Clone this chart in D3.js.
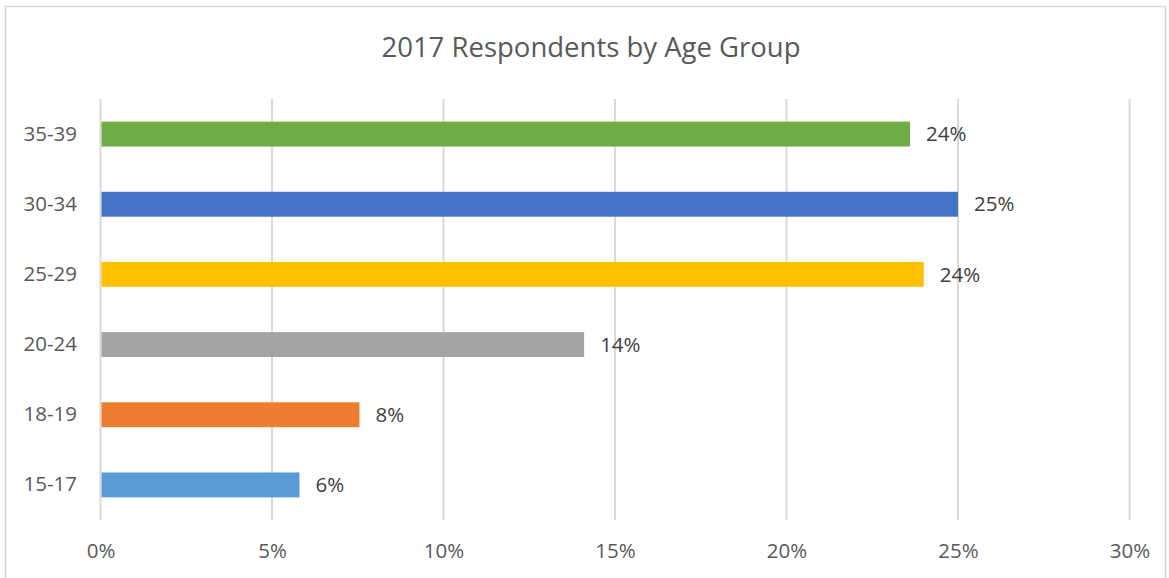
<!DOCTYPE html>
<html>
<head>
<meta charset="utf-8">
<script src="https://cdn.jsdelivr.net/npm/d3@7"></script>
<style>
  body { margin: 0; background: #fff; }
  text { font-family: "Open Sans", "Noto Sans", sans-serif; }
</style>
</head>
<body>
<div id="chart"></div>
<script>
var width = 1169;
var height = 578;

// data, bottom to top as in the picture
var ageGroups = ["15-17", "18-19", "20-24", "25-29", "30-34", "35-39"];
var shares = [5.8, 7.55, 14.1, 24.0, 25.0, 23.6];
var barLabels = ["6%", "8%", "14%", "24%", "25%", "24%"];
var barColors = ["#5B9BD5", "#ED7D31", "#A5A5A5", "#FFC000", "#4472C4", "#70AD47"];
var xTicks = [0, 5, 10, 15, 20, 25, 30];

var svg = d3.select("#chart")
            .append("svg")
            .attr("width", width)
            .attr("height", height);

// outer chart border
svg.append("rect")
    .attr("x", 5.5)
    .attr("y", 6.5)
    .attr("width", 1160)
    .attr("height", 600)
    .attr("fill", "none")
    .attr("stroke", "#D9D9D9")
    .attr("stroke-width", 1.5);

var x = d3.scaleLinear()
    .domain([0, 30])
    .range([100.5, 1129.5]);

// top category first on screen
var y = d3.scaleBand()
    .domain(ageGroups.slice().reverse())
    .range([99, 520])
    .paddingInner(0.645)
    .paddingOuter(0.3225);

// gridlines
svg.append("g")
    .selectAll("line")
    .data(xTicks)
    .enter()
    .append("line")
    .attr("x1", function(d){ return x(d); })
    .attr("x2", function(d){ return x(d); })
    .attr("y1", 99)
    .attr("y2", 520)
    .attr("stroke", "#D9D9D9")
    .attr("stroke-width", 2);

// x axis labels
var xAxis = d3.axisBottom(x)
    .tickValues(xTicks)
    .tickSize(0)
    .tickPadding(0)
    .tickFormat(function(d){ return d + "%"; });

var xg = svg.append("g")
    .attr("transform", "translate(0,551)")
    .call(xAxis);
xg.select(".domain").remove();
xg.selectAll("text")
    .attr("dy", "0.35em")
    .attr("y", 0)
    .attr("fill", "#595959")
    .style("font-size", "20.5px");

// y axis labels
var yAxis = d3.axisLeft(y)
    .tickSize(0)
    .tickPadding(23);

var yg = svg.append("g")
    .attr("transform", "translate(100,0)")
    .call(yAxis);
yg.select(".domain").remove();
yg.selectAll("text")
    .attr("fill", "#595959")
    .style("font-size", "20.5px");

// bars
var rows = ageGroups.map(function(g, i){
    return { group: g, value: shares[i], label: barLabels[i], color: barColors[i] };
});

svg.append("g")
    .selectAll("rect")
    .data(rows)
    .enter()
    .append("rect")
    .attr("x", x(0) + 1)
    .attr("y", function(d){ return y(d.group); })
    .attr("width", function(d){ return x(d.value) - x(0) - 1; })
    .attr("height", y.bandwidth())
    .attr("fill", function(d){ return d.color; });

// value labels
svg.append("g")
    .selectAll("text")
    .data(rows)
    .enter()
    .append("text")
    .attr("x", function(d){ return x(d.value) + 16; })
    .attr("y", function(d){ return y(d.group) + y.bandwidth() / 2; })
    .attr("dy", "0.35em")
    .attr("fill", "#404040")
    .style("font-size", "20.5px")
    .text(function(d){ return d.label; });

// title
svg.append("text")
    .attr("x", 591)
    .attr("y", 47)
    .attr("dy", "0.35em")
    .attr("text-anchor", "middle")
    .attr("fill", "#595959")
    .style("font-size", "27.5px")
    .text("2017 Respondents by Age Group");
</script>
</body>
</html>
